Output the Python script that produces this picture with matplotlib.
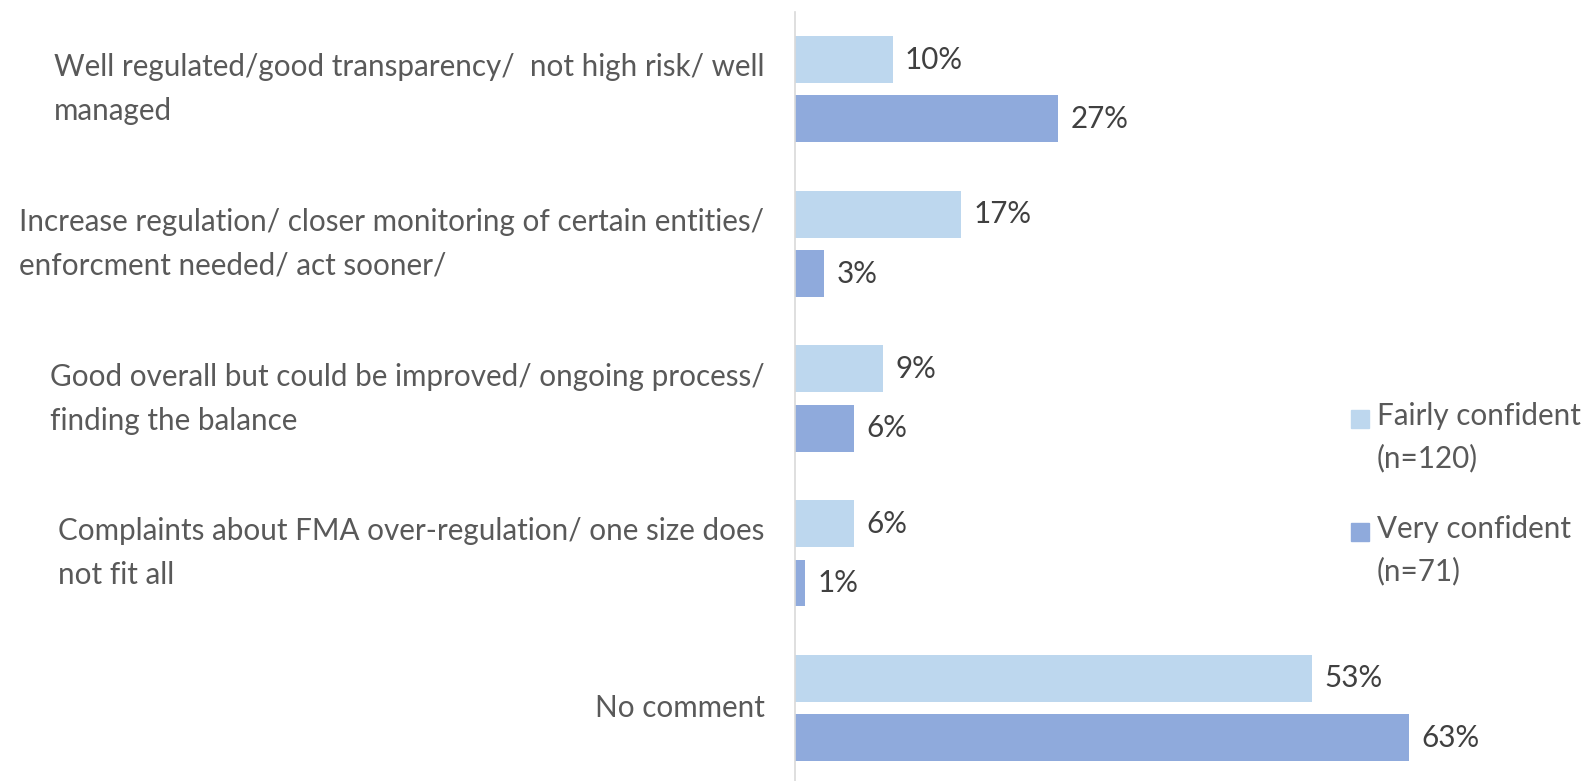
import matplotlib.pyplot as plt
from matplotlib.patches import Rectangle
import numpy as np

# survey comments, split by confidence level
categories = [
    "Well regulated/good transparency/  not high risk/ well\nmanaged",
    "Increase regulation/ closer monitoring of certain entities/\nenforcment needed/ act sooner/",
    "Good overall but could be improved/ ongoing process/\nfinding the balance",
    "Complaints about FMA over-regulation/ one size does\nnot fit all",
    "No comment",
]
fairly_confident = [10, 17, 9, 6, 53]
very_confident = [27, 3, 6, 1, 63]
series_names = ["Fairly confident\n(n=120)", "Very confident\n(n=71)"]

LIGHT = "#BDD7EE"
DARK = "#8FAADC"
TEXT = "#595959"
FS = 21.3

plt.rcParams["font.family"] = ["Lato", "DejaVu Sans"]

W, H = 1583, 781
fig = plt.figure(figsize=(W / 100, H / 100), dpi=100)
ax = fig.add_axes([795 / W, -0.0056, 682.5 / W, 0.9904])

y = np.arange(len(categories))
h = 0.303
off = 0.192
bars_fair = ax.barh(y - off, fairly_confident, height=h, color=LIGHT)
bars_very = ax.barh(y + off, very_confident, height=h, color=DARK)
ax.bar_label(bars_fair, fmt="%d%%", padding=9, fontsize=FS, color="#404040")
ax.bar_label(bars_very, fmt="%d%%", padding=9, fontsize=FS, color="#404040")

ax.set_xlim(0, 70)
ax.set_ylim(len(categories) - 0.5, -0.5)
ax.set_yticks(y)
ax.set_yticklabels(categories, fontsize=FS, color=TEXT, ma="left",
                   va="center", linespacing=1.7)
ax.tick_params(axis="y", length=0, pad=22)
ax.tick_params(axis="x", bottom=False, labelbottom=False)
for side in ["top", "right", "bottom"]:
    ax.spines[side].set_visible(False)
ax.spines["left"].set_color("#D9D9D9")
ax.spines["left"].set_linewidth(1.2)

# legend drawn by hand so the swatch sits on the first text line
for name, color, top in zip(series_names, [LIGHT, DARK], [410, 523]):
    base = top + 18
    fig.patches.append(Rectangle((1351 / W, 1 - base / H), 18 / W, 18 / H,
                                 transform=fig.transFigure, color=color))
    # baseline alignment of multi-line text follows the last line
    fig.text(1377 / W, 1 - (base + 39) / H, name, fontsize=FS, color=TEXT,
             va="baseline", ha="left", linespacing=1.55)

fig.savefig("out.png", dpi=100)
